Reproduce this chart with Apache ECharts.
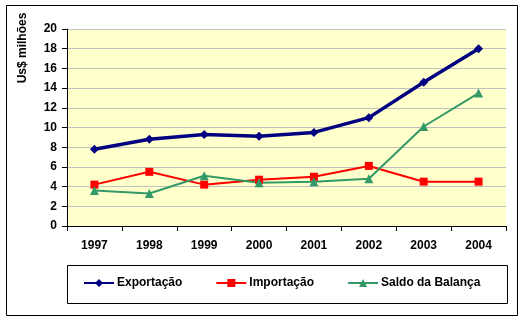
<!DOCTYPE html>
<html>
<head>
<meta charset="utf-8">
<script src="https://cdn.jsdelivr.net/npm/echarts@6/dist/echarts.min.js"></script>
<style>html,body{margin:0;padding:0;background:#fff;}#c{width:524px;height:322px;}</style>
</head>
<body>
<div id="c"></div>
<script>
var years = ['1997','1998','1999','2000','2001','2002','2003','2004'];
var exportacao = [7.8, 8.8, 9.3, 9.1, 9.5, 11.0, 14.6, 18.0];
var importacao = [4.2, 5.5, 4.2, 4.7, 5.0, 6.1, 4.5, 4.5];
var saldo = [3.6, 3.3, 5.1, 4.4, 4.5, 4.8, 10.1, 13.5];
var seriesNames = ['Exportação', 'Importação', 'Saldo da Balança'];
var yAxisTitle = 'Us$ milhões';

var font = 'Liberation Sans, Arial, sans-serif';
var chart = echarts.init(document.getElementById('c'), null, {renderer: 'canvas'});
chart.setOption({
  animation: false,
  backgroundColor: '#ffffff',
  textStyle: {fontFamily: font},
  grid: {left: 67, top: 29, right: 18, bottom: 96, show: true, backgroundColor: '#FFFFCC', borderWidth: 0},
  graphic: [
    {type: 'rect', shape: {x: 6.5, y: 5.5, width: 511, height: 310}, style: {fill: 'none', stroke: '#000', lineWidth: 1}, z: -1},
    {type: 'rect', shape: {x: 67.5, y: 265.5, width: 440, height: 38}, style: {fill: 'none', stroke: '#000', lineWidth: 1}},
    {type: 'text', x: 23, y: 48, rotation: Math.PI / 2,
      style: {text: yAxisTitle, fontFamily: font, fontWeight: 'bold', fontSize: 12, fill: '#000', align: 'center', verticalAlign: 'middle'}}
  ],
  legend: {
    left: 83, top: 277, padding: 0, itemGap: 33, itemWidth: 30, itemHeight: 10,
    textStyle: {fontFamily: font, fontWeight: 'bold', fontSize: 12, color: '#000', padding: [0, 0, 0, -2]},
    data: seriesNames
  },
  xAxis: {
    type: 'category', data: years, boundaryGap: true,
    axisLine: {lineStyle: {color: '#000', width: 1}},
    axisTick: {show: true, length: 5, inside: false, lineStyle: {color: '#000'}},
    axisLabel: {color: '#000', fontWeight: 'bold', fontSize: 12, fontFamily: font, margin: 14},
    splitLine: {show: false}
  },
  yAxis: {
    type: 'value', min: 0, max: 20, interval: 2,
    axisLine: {show: true, lineStyle: {color: '#000', width: 1}},
    axisTick: {show: true, length: 5, lineStyle: {color: '#000'}},
    axisLabel: {color: '#000', fontWeight: 'bold', fontSize: 12, fontFamily: font, margin: 10},
    splitLine: {show: true, lineStyle: {color: '#C0C0C0', width: 1}}
  },
  series: [
    {name: seriesNames[0], type: 'line', data: exportacao, symbol: 'diamond', symbolSize: 9,
      lineStyle: {color: '#000080', width: 3.5}, itemStyle: {color: '#000080'}},
    {name: seriesNames[1], type: 'line', data: importacao, symbol: 'rect', symbolSize: 8,
      lineStyle: {color: '#FF0000', width: 2}, itemStyle: {color: '#FF0000'}},
    {name: seriesNames[2], type: 'line', data: saldo, symbol: 'triangle', symbolSize: 9,
      lineStyle: {color: '#339966', width: 2}, itemStyle: {color: '#339966'}}
  ]
});
</script>
</body>
</html>
